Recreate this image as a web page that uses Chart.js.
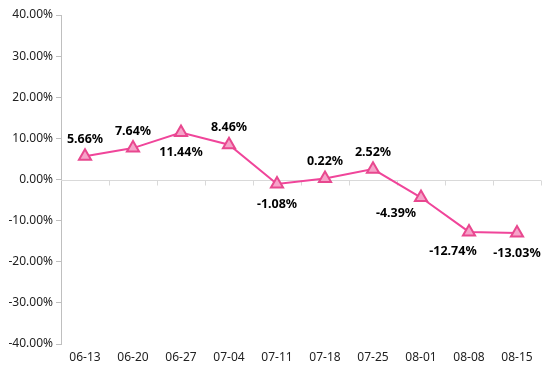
<!DOCTYPE html>
<html><head><meta charset="utf-8">
<script src="https://cdn.jsdelivr.net/npm/chart.js@4/dist/chart.umd.min.js"></script>
<style>html,body{margin:0;padding:0;background:#fff}#wrap{width:554px;height:384px}</style>
</head><body><div id="wrap"><canvas id="c" width="554" height="384"></canvas></div>
<script>
const categories = ['06-13','06-20','06-27','07-04','07-11','07-18','07-25','08-01','08-08','08-15'];
const values = [5.66, 7.64, 11.44, 8.46, -1.08, 0.22, 2.52, -4.39, -12.74, -13.03];
const labelPlacement = ['above','above','below','above','below','above','above','belowLeft','belowLeftSmall','below'];
const yTicks = [-40,-30,-20,-10,0,10,20,30,40];

const FONT = '"Noto Sans", "DejaVu Sans", sans-serif';

const zeroLinePlugin = {
  id: 'zeroLine',
  beforeDatasetsDraw(chart) {
    const {ctx, chartArea, scales} = chart;
    const y0 = scales.y.getPixelForValue(0);
    ctx.save();
    ctx.strokeStyle = '#d9d9d9';
    ctx.lineWidth = 1;
    ctx.beginPath();
    ctx.moveTo(chartArea.left, Math.round(y0) + 0.5);
    ctx.lineTo(chartArea.right, Math.round(y0) + 0.5);
    const xs = scales.x;
    const step = xs.getPixelForValue(1) - xs.getPixelForValue(0);
    for (let i = 0; i < categories.length; i++) {
      const px = Math.round(xs.getPixelForValue(i) + step / 2) + 0.5;
      ctx.moveTo(px, Math.round(y0) + 0.5);
      ctx.lineTo(px, Math.round(y0) + 5.5);
    }
    ctx.stroke();
    ctx.restore();
  }
};

const labelPlugin = {
  id: 'valueLabels',
  afterDatasetsDraw(chart) {
    const {ctx} = chart;
    const meta = chart.getDatasetMeta(0);
    ctx.save();
    ctx.font = 'bold 12.5px ' + FONT;
    ctx.fillStyle = '#000';
    ctx.textAlign = 'center';
    ctx.textBaseline = 'middle';
    meta.data.forEach((pt, i) => {
      const txt = values[i].toFixed(2) + '%';
      let dx = 0, dy = -17;
      const p = labelPlacement[i];
      if (p === 'below') dy = 20;
      if (p === 'belowLeft') { dx = -25; dy = 16; }
      if (p === 'belowLeftSmall') { dx = -16; dy = 20; }
      ctx.fillText(txt, pt.x + dx, pt.y + dy);
    });
    ctx.restore();
  }
};

new Chart(document.getElementById('c'), {
  type: 'line',
  data: {
    labels: categories,
    datasets: [{
      data: values,
      borderColor: '#f0459a',
      borderWidth: 2,
      backgroundColor: '#f6a3c9',
      pointStyle: 'triangle',
      pointRadius: 7,
      pointBorderWidth: 2,
      pointBorderColor: '#e8488f',
      pointBackgroundColor: '#f6a3c9',
      tension: 0
    }]
  },
  plugins: [zeroLinePlugin, labelPlugin],
  options: {
    responsive: false,
    animation: false,
    events: [],
    layout: { padding: { top: 15, right: 13, left: 0, bottom: 0 } },
    plugins: { legend: { display: false }, tooltip: { enabled: false } },
    scales: {
      x: {
        offset: true,
        grid: { display: false, drawTicks: false },
        border: { display: false },
        ticks: { color: '#222', font: { family: FONT, size: 12 }, padding: 6, maxRotation: 0, autoSkip: false },
        afterFit: s => { s.height = 40; }
      },
      y: {
        min: -40, max: 40,
        afterBuildTicks: s => { s.ticks = yTicks.map(v => ({value: v})); },
        grid: { drawOnChartArea: false, tickLength: 5, color: '#bfbfbf' },
        border: { color: '#bfbfbf' },
        ticks: { color: '#222', font: { family: FONT, size: 12 }, padding: 3, callback: v => v.toFixed(2) + '%' },
        afterFit: s => { s.width = 61; }
      }
    }
  }
});
</script></body></html>
